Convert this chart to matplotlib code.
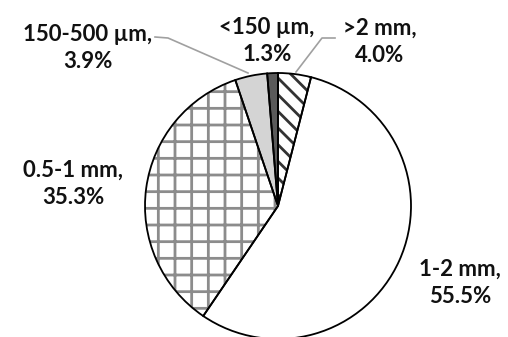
import matplotlib.pyplot as plt

# size fractions, clockwise from the top
labels = ['>2 mm', '1-2 mm', '0.5-1 mm', '150-500 µm', '<150 µm']
shares = [4.0, 55.5, 35.3, 3.9, 1.3]
fills = ['white', 'white', 'white', '#d4d4d4', '#5a5a5a']
hatches = ['\\\\', '', '+', '', '']
hatch_cols = ['#333333', 'white', '#8c8c8c', '#d4d4d4', '#5a5a5a']

W, H = 508, 337
cx, cy, R = 278, 206, 133


def px(x, y):
    # pixel position (from top-left) -> data units of the pie
    return (x - cx) / R, (cy - y) / R


plt.rcParams['font.family'] = ['Lato', 'DejaVu Sans']
plt.rcParams['hatch.linewidth'] = 2.0
fig = plt.figure(figsize=(W / 100, H / 100), dpi=100)
ax = fig.add_axes([0, 0, 1, 1])

# hatch pass
wedges, _ = ax.pie(shares, startangle=90, counterclock=False, colors=fills,
                   radius=1, wedgeprops=dict(linewidth=0))
for w, h, hc in zip(wedges, hatches, hatch_cols):
    w.set_hatch(h)
    w.set_edgecolor(hc)

# outline pass
ax.pie(shares, startangle=90, counterclock=False, radius=1,
       wedgeprops=dict(fill=False, edgecolor='black', linewidth=1.3))

ax.set_xlim(-cx / R, (W - cx) / R)
ax.set_ylim(-(H - cy) / R, cy / R)
ax.set_aspect('equal', adjustable='box')
ax.axis('off')

text_pos = [(380, 42), (460, 283), (73, 184), (88, 48), (267, 41)]
for lab, v, (tx, ty) in zip(labels, shares, text_pos):
    x, y = px(tx, ty)
    ax.text(x, y, f'{lab},\n{v:.1f}%', ha='center', va='center',
            fontsize=16, fontweight='bold', color='#111111', linespacing=1.4)

# leader lines
ax.plot(*zip(px(155, 37), px(168, 38), px(248, 73)), color='#a0a0a0', lw=1.2)
ax.plot(*zip(px(335, 38), px(322, 38), px(296, 72)), color='#a0a0a0', lw=1.2)

fig.savefig('out.png', dpi=100)
